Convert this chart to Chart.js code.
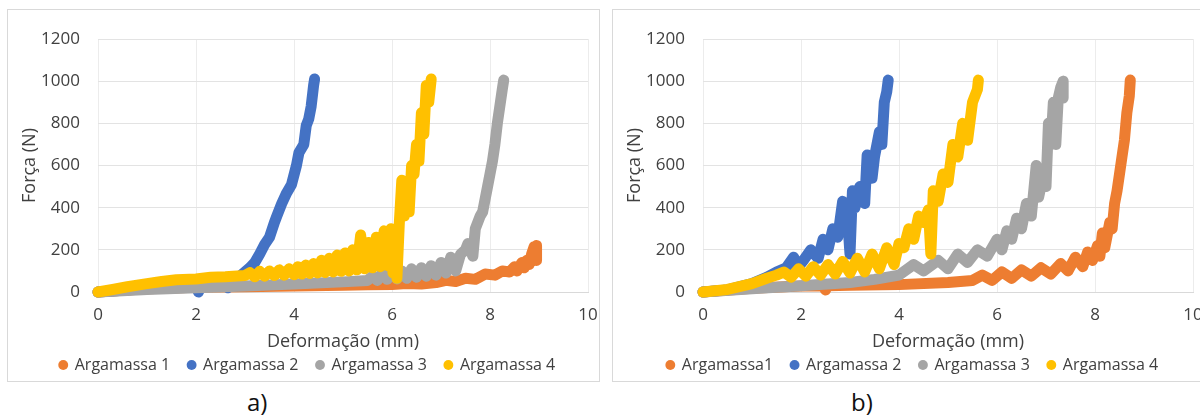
<!DOCTYPE html>
<html>
<head>
<meta charset="utf-8">
<script src="https://cdn.jsdelivr.net/npm/chart.js@4.4.0/dist/chart.umd.min.js"></script>
<style>
  body { margin: 0; background: #fff; width: 1200px; height: 416px; overflow: hidden; position: relative; font-family: "Open Sans", sans-serif; }
  .box { position: absolute; top: 9px; width: 591px; height: 371px; border: 1px solid #d9d9d9; background: #fff; }
  .cap { position: absolute; top: 385px; font-size: 24px; color: #111; }
</style>
</head>
<body>
<div class="box" style="left:7px"><canvas id="chartA" width="591" height="371"></canvas></div>
<div class="box" style="left:612px"><canvas id="chartB" width="591" height="371"></canvas></div>
<div class="cap" style="left:247px">a)</div>
<div class="cap" style="left:851px">b)</div>
<script>
  // a) deformação (mm) / força (N)
  var a1_x = [0, 0.5, 1, 2, 3, 4, 5, 5.5, 6, 6.3, 6.6, 6.9, 7.1, 7.3, 7.5, 7.7, 7.9, 8.1, 8.25, 8.4, 8.5, 8.55, 8.65, 8.7, 8.75, 8.8, 8.85, 8.9, 8.92, 8.95, 8.95]
  var a1_y = [0, 8, 15, 22, 25, 28, 32, 34, 36, 40, 38, 45, 55, 50, 65, 60, 85, 80, 100, 95, 120, 100, 140, 115, 150, 130, 180, 215, 150, 220, 150]
  var a2_x = [0, 0.5, 1, 1.5, 2.0, 2.05, 2.1, 2.3, 2.6, 2.65, 2.8, 3.0, 3.1, 3.2, 3.3, 3.4, 3.5, 3.6, 3.65, 3.75, 3.85, 3.95, 4.05, 4.1, 4.2, 4.25, 4.3, 4.35, 4.38, 4.4, 4.42]
  var a2_y = [0, 8, 18, 25, 30, 0, 30, 38, 45, 20, 55, 95, 115, 140, 180, 225, 260, 330, 360, 420, 470, 510, 600, 660, 700, 790, 820, 880, 940, 980, 1010]
  var a3_x = [0, 1, 2, 3, 4, 5, 5.5, 5.6, 5.7, 5.8, 5.9, 6.0, 6.1, 6.2, 6.3, 6.4, 6.5, 6.6, 6.7, 6.8, 6.9, 7.0, 7.1, 7.2, 7.3, 7.4, 7.5, 7.55, 7.65, 7.7, 7.8, 7.85, 7.95, 8.0, 8.05, 8.1, 8.15, 8.2, 8.25, 8.28]
  var a3_y = [0, 12, 20, 28, 38, 48, 55, 75, 55, 90, 60, 95, 62, 100, 65, 110, 70, 115, 75, 125, 80, 140, 90, 165, 100, 180, 200, 230, 170, 300, 360, 380, 500, 560, 620, 700, 800, 880, 960, 1005]
  var a4_x = [0, 0.3, 0.6, 1.0, 1.3, 1.6, 2.0, 2.3, 2.6, 3.0, 3.1, 3.2, 3.3, 3.4, 3.5, 3.6, 3.7, 3.8, 3.9, 4.0, 4.08, 4.16, 4.24, 4.32, 4.4, 4.48, 4.56, 4.64, 4.72, 4.8, 4.88, 4.96, 5.04, 5.12, 5.2, 5.28, 5.36, 5.44, 5.52, 5.6, 5.68, 5.76, 5.84, 5.92, 5.98, 6.02, 6.06, 6.1, 6.15, 6.2, 6.25, 6.3, 6.35, 6.4, 6.45, 6.5, 6.55, 6.6, 6.65, 6.7, 6.75, 6.8]
  var a4_y = [0, 12, 25, 40, 50, 58, 62, 70, 72, 78, 92, 72, 98, 75, 100, 78, 105, 80, 110, 82, 120, 85, 128, 88, 135, 90, 150, 92, 160, 95, 175, 98, 185, 100, 200, 105, 270, 110, 235, 115, 260, 120, 290, 125, 300, 90, 250, 65, 330, 530, 360, 450, 380, 600, 560, 700, 620, 850, 750, 980, 900, 1010]

  // b)
  var b1_x = [0, 1, 2, 2.45, 2.5, 2.55, 3, 4, 5, 5.5, 5.7, 5.9, 6.1, 6.3, 6.5, 6.7, 6.9, 7.1, 7.3, 7.45, 7.6, 7.75, 7.85, 7.95, 8.05, 8.1, 8.15, 8.2, 8.3, 8.35, 8.4, 8.45, 8.5, 8.55, 8.6, 8.65, 8.7, 8.72]
  var b1_y = [0, 18, 28, 30, 10, 30, 32, 35, 45, 55, 80, 55, 95, 65, 105, 75, 115, 85, 135, 100, 165, 120, 190, 150, 220, 170, 280, 210, 330, 300, 420, 480, 560, 640, 720, 850, 930, 1005]
  var b2_x = [0, 0.5, 1.0, 1.3, 1.5, 1.7, 1.85, 1.95, 2.05, 2.2, 2.35, 2.45, 2.55, 2.65, 2.75, 2.85, 2.95, 3.0, 3.05, 3.1, 3.2, 3.3, 3.35, 3.45, 3.5, 3.6, 3.65, 3.7, 3.75, 3.78]
  var b2_y = [0, 10, 40, 70, 95, 115, 165, 120, 150, 200, 160, 250, 200, 300, 260, 430, 350, 180, 480, 400, 500, 420, 650, 540, 640, 760, 700, 900, 950, 1005]
  var b3_x = [0, 1, 2, 3, 3.5, 4, 4.3, 4.5, 4.8, 5.0, 5.2, 5.4, 5.6, 5.8, 6.0, 6.1, 6.2, 6.3, 6.4, 6.5, 6.6, 6.7, 6.8, 6.85, 6.95, 7.0, 7.05, 7.1, 7.15, 7.2, 7.25, 7.3, 7.35, 7.35, 7.3]
  var b3_y = [0, 15, 30, 45, 60, 80, 130, 100, 150, 110, 180, 140, 200, 170, 250, 200, 290, 250, 350, 300, 420, 360, 600, 450, 560, 500, 800, 700, 900, 700, 920, 970, 1000, 920, 940]
  var b4_x = [0, 0.5, 1, 1.3, 1.5, 1.65, 1.8, 1.95, 2.1, 2.25, 2.4, 2.55, 2.7, 2.85, 3.0, 3.15, 3.3, 3.45, 3.6, 3.75, 3.9, 4.0, 4.1, 4.2, 4.3, 4.4, 4.5, 4.6, 4.65, 4.7, 4.8, 4.9, 5.0, 5.1, 5.2, 5.3, 5.4, 5.5, 5.6, 5.62]
  var b4_y = [0, 12, 40, 65, 80, 95, 70, 110, 75, 120, 80, 130, 85, 145, 90, 160, 95, 180, 110, 210, 130, 230, 210, 300, 250, 360, 330, 390, 180, 480, 430, 560, 520, 700, 640, 800, 720, 900, 960, 1005]

  var xTicks = [0, 2, 4, 6, 8, 10]
  var yTicks = [0, 200, 400, 600, 800, 1000, 1200]
  var names_a = ['Argamassa 1', 'Argamassa 2', 'Argamassa 3', 'Argamassa 4']
  var names_b = ['Argamassa1', 'Argamassa 2', 'Argamassa 3', 'Argamassa 4']
  var colors = ['#ED7D31', '#4472C4', '#A5A5A5', '#FFC000']

  function pts(xs, ys) {
    return xs.map(function (x, i) { return { x: x, y: ys[i] } })
  }

  function makeChart(id, names, series) {
    var txt = '#404040'
    return new Chart(document.getElementById(id), {
      type: 'scatter',
      data: {
        datasets: series.map(function (s, i) {
          return {
            label: names[i],
            data: pts(s[0], s[1]),
            showLine: true,
            borderColor: colors[i],
            backgroundColor: colors[i],
            borderWidth: 11,
            borderJoinStyle: 'round',
            borderCapStyle: 'round',
            pointRadius: 0,
            pointStyle: 'circle',
            order: 4 - i,
            clip: 10
          }
        })
      },
      options: {
        responsive: false,
        animation: false,
        devicePixelRatio: 1,
        layout: { padding: { left: 19, right: 11, top: 29, bottom: -2 } },
        plugins: {
          tooltip: { enabled: false },
          legend: {
            position: 'bottom',
            labels: {
              usePointStyle: true,
              boxWidth: 7,
              boxHeight: 7,
              padding: 18,
              color: txt,
              font: { family: 'Open Sans', size: 16 },
              generateLabels: function (chart) {
                var items = Chart.defaults.plugins.legend.labels.generateLabels(chart)
                items.forEach(function (it) { it.lineWidth = 0 })
                return items
              },
              sort: function (a, b) { return a.datasetIndex - b.datasetIndex }
            }
          }
        },
        scales: {
          x: {
            type: 'linear',
            min: 0,
            max: 10,
            afterBuildTicks: function (ax) { ax.ticks = xTicks.map(function (v) { return { value: v } }) },
            afterFit: function (ax) { ax.height = 47; ax.paddingRight = 0; ax.paddingLeft = 0 },
            grid: { color: '#ececec', drawTicks: false },
            border: { color: '#d9d9d9' },
            ticks: { color: txt, padding: 13, font: { family: 'Open Sans', size: 17 }, callback: function (v) { return String(v) } },
            title: { display: true, text: 'Deformação (mm)', color: txt, font: { family: 'Open Sans', size: 18 }, padding: { top: 0, bottom: -14 } }
          },
          y: {
            type: 'linear',
            min: 0,
            max: 1200,
            afterBuildTicks: function (ax) { ax.ticks = yTicks.map(function (v) { return { value: v } }) },
            afterFit: function (ax) { ax.width = 71 },
            grid: { color: '#e3e3e3', drawTicks: false },
            border: { display: false },
            ticks: { color: txt, padding: 18, font: { family: 'Open Sans', size: 17 }, callback: function (v) { return String(v) } },
            title: { display: true, text: 'Força (N)', color: txt, font: { family: 'Open Sans', size: 18 }, padding: { top: -8, bottom: 0 } }
          }
        }
      }
    })
  }

  makeChart('chartA', names_a, [[a1_x, a1_y], [a2_x, a2_y], [a3_x, a3_y], [a4_x, a4_y]])
  makeChart('chartB', names_b, [[b1_x, b1_y], [b2_x, b2_y], [b3_x, b3_y], [b4_x, b4_y]])
</script>
</body>
</html>
